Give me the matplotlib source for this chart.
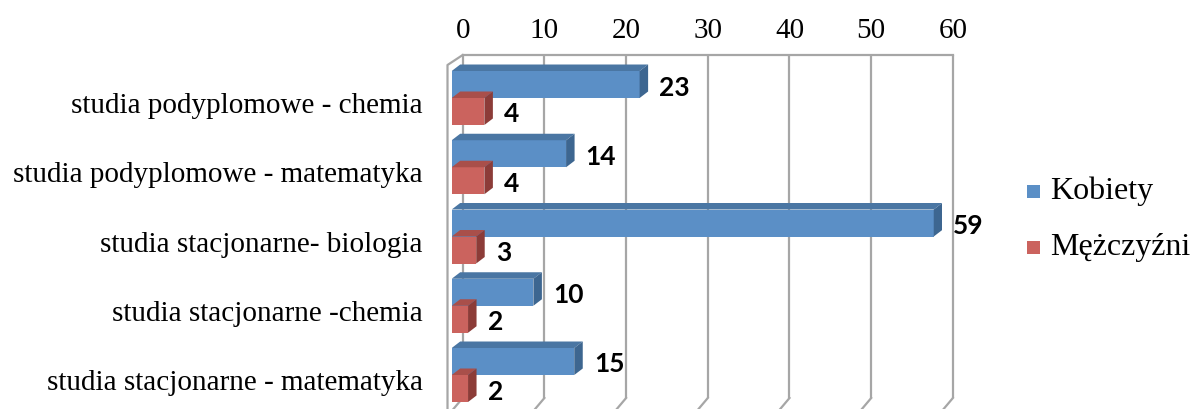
import matplotlib
matplotlib.use("Agg")
import matplotlib.pyplot as plt
from matplotlib.patches import Polygon, Rectangle

categories = [
    "studia podyplomowe - chemia",
    "studia podyplomowe - matematyka",
    "studia stacjonarne- biologia",
    "studia stacjonarne -chemia",
    "studia stacjonarne - matematyka",
]
kobiety = [23, 14, 59, 10, 15]
mezczyzni = [4, 4, 3, 2, 2]
series_names = ["Kobiety", "Mężczyźni"]
xticks = [0, 10, 20, 30, 40, 50, 60]

W, H = 1194, 409
DPI = 100
fig = plt.figure(figsize=(W / DPI, H / DPI), dpi=DPI)
fig.patch.set_facecolor("white")

# axes box = front plane of the bars (pixel coordinates, y from top)
ax_l, ax_r = 451.7, 941.9
ax_t, ax_b = 63.0, 406.0
ax = fig.add_axes([ax_l / W, 1 - ax_b / H, (ax_r - ax_l) / W, (ax_b - ax_t) / H])
ax.set_xlim(0, 60)
cat_pitch = 69.25
cat0 = 98.0
ytop = (ax_t - cat0) / cat_pitch
ybot = (ax_b - cat0) / cat_pitch
ax.set_ylim(ybot, ytop)
ax.axis("off")

ppx = (ax_r - ax_l) / 60.0
ppy = cat_pitch


def px2dx(p):
    return p / ppx


def px2dy(p):  # positive p = downward on screen
    return p / ppy


def ypix(p):
    return (p - cat0) / cat_pitch


grid_c = "#A6A6A6"
grid_lw = 1.6
# wall offsets
bx, by = px2dx(11.0), px2dy(-8.0)
fx, fy = px2dx(-4.2), px2dy(2.0)

# back wall gridlines
for v in xticks:
    ax.plot([v + bx, v + bx], [ytop + by, ybot + by], color=grid_c, lw=grid_lw,
            clip_on=False, zorder=1, solid_capstyle="butt")
    # floor lines
    ax.plot([v + bx, v + fx], [ybot + by, ybot + fy + px2dy(8)], color=grid_c,
            lw=grid_lw, clip_on=False, zorder=1)
# top edge of back wall
ax.plot([0 + bx, 60 + bx], [ytop + by, ytop + by], color=grid_c, lw=grid_lw,
        clip_on=False, zorder=1)
# left wall
ax.plot([0 + bx, 0 + fx, 0 + fx], [ytop + by, ytop + fy, ybot + fy + px2dy(8)],
        color=grid_c, lw=grid_lw, clip_on=False, zorder=1)

# bars
bh = 27.0 / cat_pitch
ddx, ddy = px2dx(8.5), px2dy(-6.5)
colors = {
    "Kobiety": ("#5B8FC6", "#4A76A3", "#3D6690"),
    "Mężczyźni": ("#CB635E", "#A94F4A", "#8C3C38"),
}
offsets = [-bh / 2, bh / 2]
for s_i, (name, vals) in enumerate(zip(series_names, [kobiety, mezczyzni])):
    front, top, side = colors[name]
    for i, v in enumerate(vals):
        yc = i + offsets[s_i]
        y0, y1 = yc - bh / 2, yc + bh / 2  # y0 = top edge (inverted axis)
        ax.barh(yc, v, height=bh, color=front, zorder=3, linewidth=0)
        ax.add_patch(Polygon([(0, y0), (v, y0), (v + ddx, y0 + ddy), (0 + ddx, y0 + ddy)],
                             closed=True, facecolor=top, edgecolor="none", zorder=3))
        ax.add_patch(Polygon([(v, y0), (v + ddx, y0 + ddy), (v + ddx, y1 + ddy), (v, y1)],
                             closed=True, facecolor=side, edgecolor="none", zorder=3))
        ax.text(v + ddx + px2dx(11), yc + px2dy(3), str(v), ha="left", va="center",
                fontsize=19, fontweight="bold", family=["Lato", "DejaVu Sans"],
                zorder=5, clip_on=False)

serif = ["Liberation Serif", "DejaVu Serif"]
# category labels
for i, c in enumerate(categories):
    fig.text(423 / W, 1 - (cat0 + 8 + i * cat_pitch) / H, c, ha="right", va="center",
             fontsize=21, family=serif)

# top tick labels
for v in xticks:
    ax.text(v + bx, ypix(31), str(v), ha="center", va="center", fontsize=21,
            family=serif, clip_on=False)

# legend
leg_y = [191, 247]
leg_cols = ["#5B8FC6", "#CB635E"]
for name, yy, col in zip(series_names, leg_y, leg_cols):
    fig.patches.append(Rectangle(((1027) / W, 1 - (yy + 7) / H), 13 / W, 13 / H,
                                 transform=fig.transFigure, facecolor=col,
                                 edgecolor="none"))
    fig.text(1050 / W, 1 - yy / H, name, ha="left", va="center", fontsize=23,
             family=serif)

fig.savefig("out.png", dpi=DPI)
